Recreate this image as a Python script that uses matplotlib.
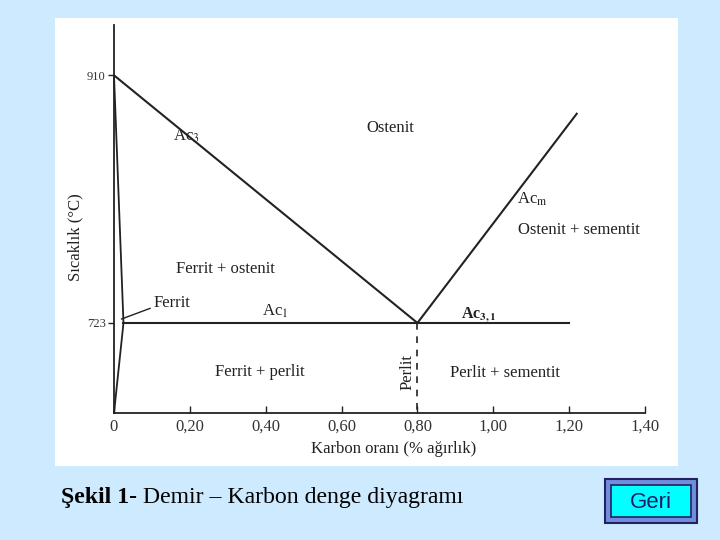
import matplotlib
matplotlib.use("Agg")
import matplotlib.pyplot as plt
from matplotlib.patches import Rectangle

plt.rcParams["mathtext.fontset"] = "stix"

# data (carbon %, temperature degC)
carbon_ticks = [0, 0.20, 0.40, 0.60, 0.80, 1.00, 1.20, 1.40]
carbon_labels = ["0", "0,20", "0,40", "0,60", "0,80", "1,00", "1,20", "1,40"]
temp_ticks = [723, 910]

ac3_x = [0, 0.80]
ac3_y = [910, 723]
acm_x = [0.80, 1.22]
acm_y = [723, 881]
ac1_x = [0.025, 1.20]
ac1_y = [723, 723]
ferrit_x = [0, 0.025, 0]
ferrit_y = [910, 723, 655]
perlit_x = [0.80, 0.80]
perlit_y = [723, 655]

W, H = 720, 540
ink = "#222222"
serif = ["Liberation Serif", "DejaVu Serif"]

fig = plt.figure(figsize=(7.2, 5.4), dpi=100)
fig.patch.set_facecolor("#cdeaff")

def fx(px):
    return px / W

def fy(py):
    return 1 - py / H

# white panel of the scanned figure
fig.patches.append(Rectangle((fx(55), fy(466)), fx(678) - fx(55), fy(18) - fy(466),
                             transform=fig.transFigure, facecolor="white",
                             edgecolor="none", zorder=-10))

ax = fig.add_axes([fx(114), fy(413), fx(645) - fx(114), fy(25) - fy(413)])
ax.set_zorder(5)
ax.set_facecolor("none")
ax.set_xlim(0, 1.40)
ax.set_ylim(655, 948)
for s in ["top", "right"]:
    ax.spines[s].set_visible(False)
for s in ["left", "bottom"]:
    ax.spines[s].set_color(ink)
    ax.spines[s].set_linewidth(1.3)

ax.set_xticks(carbon_ticks)
ax.set_xticklabels(carbon_labels, family=serif, fontsize=12, color="#333333")
ax.tick_params(axis="x", direction="in", length=5, width=1, color=ink, pad=4)
ax.set_yticks(temp_ticks)
ax.set_yticklabels([str(t) for t in temp_ticks], family=serif, fontsize=9, color="#333333")
ax.tick_params(axis="y", direction="out", length=4, width=1, color=ink, pad=2)

lw = 1.5
ax.plot(ac3_x, ac3_y, color=ink, lw=lw)
ax.plot(acm_x, acm_y, color=ink, lw=lw)
ax.plot(ac1_x, ac1_y, color=ink, lw=lw)
ax.plot(ferrit_x, ferrit_y, color=ink, lw=1.3, clip_on=False)
ax.plot(perlit_x, perlit_y, color=ink, lw=1.2, ls=(0, (4, 4)))
ax.plot([0.02, 0.095], [726, 734], color=ink, lw=1)

tk = dict(family=serif, fontsize=12, color=ink)
ax.text(0.728, 870, "Ostenit", ha="center", va="center", **tk)
ax.text(0.19, 864, "Ac$_3$", ha="center", va="center", **tk)
ax.text(1.062, 816, "Ac$_{\\rm m}$", ha="left", va="center", **tk)
ax.text(1.065, 793, "Ostenit + sementit", ha="left", va="center", **tk)
ax.text(0.293, 764, "Ferrit + ostenit", ha="center", va="center", **tk)
ax.text(0.103, 738, "Ferrit", ha="left", va="center", **tk)
ax.text(0.424, 732, "Ac$_1$", ha="center", va="center", **tk)
ax.text(0.915, 729, "Ac$_{\\mathbf{3,1}}$", ha="left", va="center", fontweight="bold",
        family=serif, fontsize=11.5, color=ink)
ax.text(0.385, 686, "Ferrit + perlit", ha="center", va="center", **tk)
ax.text(0.775, 686, "Perlit", ha="center", va="center", rotation=90, **tk)
ax.text(1.031, 685, "Perlit + sementit", ha="center", va="center", **tk)

fig.text(fx(75), fy(237), "Sıcaklık (°C)", rotation=90, ha="center", va="center", **tk)
fig.text(fx(394), fy(449), "Karbon oranı (% ağırlık)", ha="center", va="center", **tk)

# caption
fig.text(fx(61), fy(497), "Şekil 1-", family=serif, fontsize=17.1, fontweight="bold",
         color="black", ha="left", va="center")
fig.text(fx(143), fy(497), "Demir – Karbon denge diyagramı", family=serif, fontsize=17.1,
         color="black", ha="left", va="center")

# "Geri" button
fig.patches.append(Rectangle((fx(605), fy(523)), fx(697) - fx(605), fy(479) - fy(523),
                             transform=fig.transFigure, facecolor="#6f8ede",
                             edgecolor="#26205e", lw=1.5, zorder=1))
fig.patches.append(Rectangle((fx(611), fy(517)), fx(691) - fx(611), fy(485) - fy(517),
                             transform=fig.transFigure, facecolor="#00ffff",
                             edgecolor="#26205e", lw=1.2, zorder=2))
fig.text(fx(651), fy(503), "Geri", family=["Liberation Sans", "DejaVu Sans"], fontsize=16,
         color="#1c1c6a", ha="center", va="center", zorder=3)

fig.savefig("out.png", dpi=100, facecolor=fig.get_facecolor())
